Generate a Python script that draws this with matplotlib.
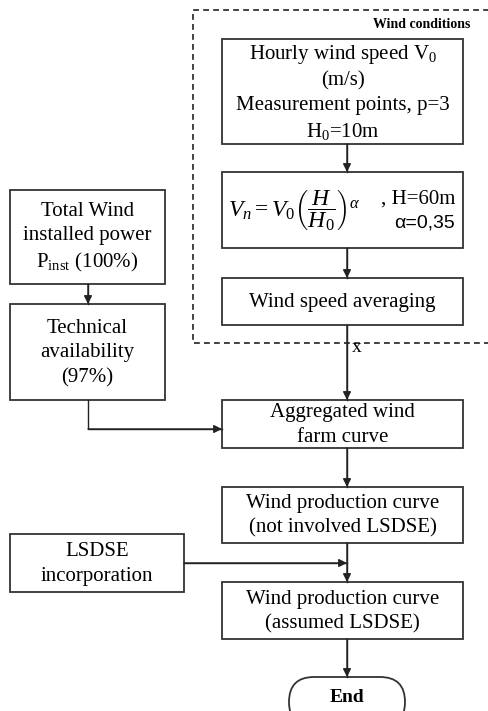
import matplotlib
matplotlib.use("Agg")
from matplotlib import pyplot as plt
from matplotlib.patches import Rectangle, FancyBboxPatch

plt.rcParams['font.family'] = ['Liberation Serif', 'DejaVu Serif']
plt.rcParams['mathtext.fontset'] = 'custom'
plt.rcParams['mathtext.rm'] = 'Liberation Serif'
plt.rcParams['mathtext.it'] = 'Liberation Serif:italic'
plt.rcParams['mathtext.bf'] = 'Liberation Serif:bold'

# boxes: (x0, y0, x1, y1) in pixel coords (y down), text
box_pos = [
    (222, 39, 463, 144),    # hourly wind speed
    (222, 172, 463, 248),   # formula
    (222, 278, 463, 325),   # averaging
    (10, 190, 165, 284),    # total installed
    (10, 304, 165, 400),    # technical availability
    (222, 400, 463, 448),   # aggregated
    (222, 487, 463, 543),   # production 1
    (10, 534, 184, 592),    # LSDSE
    (222, 582, 463, 639),   # production 2
]
box_text = [
    "Hourly wind speed V$_0$\n(m/s)\nMeasurement points, p=3\nH$_0$=10m",
    "",
    "Wind speed averaging",
    "Total Wind\ninstalled power\nP$_{\\mathrm{inst}}$ (100%)",
    "Technical\navailability\n(97%)",
    "Aggregated wind\nfarm curve",
    "Wind production curve\n(not involved LSDSE)",
    "LSDSE\nincorporation",
    "Wind production curve\n(assumed LSDSE)",
]
# arrows: list of polyline points, last segment gets the arrow head
arrows = [
    [(347, 144), (347, 172)],
    [(347, 248), (347, 278)],
    [(347, 325), (347, 400)],
    [(88, 284), (88, 304)],
    [(88, 400), (88, 429), (222, 429)],
    [(347, 448), (347, 487)],
    [(347, 543), (347, 582)],
    [(184, 563), (347, 563)],
    [(347, 639), (347, 677)],
]

fig = plt.figure(figsize=(4.89, 7.11), dpi=100)
ax = fig.add_axes([0, 0, 1, 1])
ax.set_xlim(0, 489)
ax.set_ylim(711, 0)
ax.axis('off')

lw = 1.3
fs = 15

# dashed frame
ax.plot([495, 193, 193, 495], [10, 10, 343, 343], color='#222222', lw=1.2,
        ls=(0, (3.5, 2.5)), clip_on=True)
ax.text(470, 25, "Wind conditions", ha='right', va='center', fontsize=10,
        fontweight='bold')

for (x0, y0, x1, y1), t in zip(box_pos, box_text):
    ax.add_patch(Rectangle((x0, y0), x1 - x0, y1 - y0, fill=False,
                           ec='#333333', lw=lw))
    if t:
        ax.text((x0 + x1) / 2, (y0 + y1) / 2 + 1, t, ha='center', va='center',
                fontsize=fs, linespacing=1.38)

# formula box content
ax.text(228, 211, r"$V_n = V_0\left(\dfrac{H}{H_0}\right)^{\alpha}$",
        ha='left', va='center', fontsize=17)
ax.text(455, 199, ", H=60m", ha='right', va='center', fontsize=fs)
ax.text(455, 223, "α=0,35", ha='right', va='center', fontsize=fs - 1,
        family='Liberation Sans')

for pts in arrows:
    xs = [p[0] for p in pts]
    ys = [p[1] for p in pts]
    ax.plot(xs, ys, color='#222222', lw=1.0)
    ax.annotate("", xy=pts[-1], xytext=pts[-2],
                arrowprops=dict(arrowstyle='-|>', color='#222222', lw=1.0,
                                mutation_scale=12, shrinkA=0, shrinkB=0))

ax.text(352, 348, "x", ha='left', va='center', fontsize=14)

# end terminal
ax.add_patch(FancyBboxPatch((289, 677), 116, 50,
                            boxstyle="round,pad=0,rounding_size=25",
                            fill=True, fc='white', ec='#333333', lw=lw))
ax.text(347, 697, "End", ha='center', va='center', fontsize=14,
        fontweight='bold')

fig.savefig("out.png", dpi=100)
